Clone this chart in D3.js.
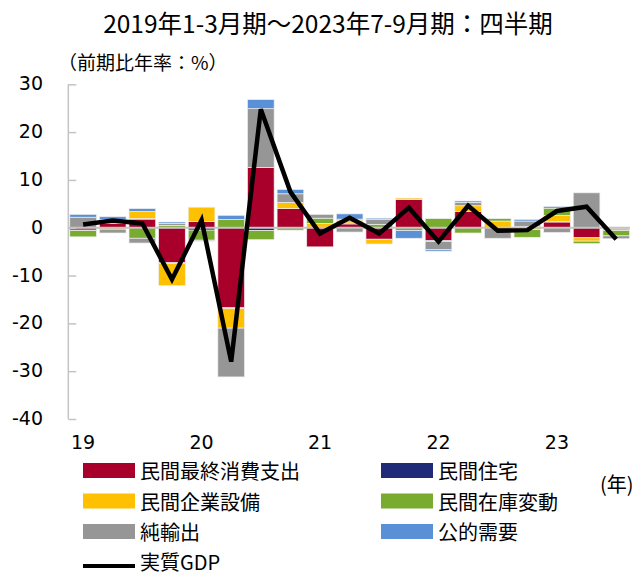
<!DOCTYPE html>
<html>
<head>
<meta charset="utf-8">
<script src="https://cdnjs.cloudflare.com/ajax/libs/d3/7.8.5/d3.min.js"></script>
<style>
  body { margin: 0; background: #fff; }
  text { font-family: "Noto Sans CJK JP", "Noto Sans", sans-serif; fill: #000; }
  .num { font-family: "DejaVu Sans", Verdana, sans-serif; }
</style>
</head>
<body>
<script>
// quarters 2019Q1 - 2023Q3
var quarters = ["2019Q1","2019Q2","2019Q3","2019Q4","2020Q1","2020Q2","2020Q3","2020Q4",
  "2021Q1","2021Q2","2021Q3","2021Q4","2022Q1","2022Q2","2022Q3","2022Q4",
  "2023Q1","2023Q2","2023Q3"];

// contributions (annualised, %)
var consumption = [-0.5, 0.9, 1.8, -7.3, 1.3, -16.7, 12.6, 4.0, -4.0, 0.8, -2.4, 5.9, -2.7, 3.4, 0.1, 0.3, 1.2, -2.1, -0.2];
var housing     = [-0.1, 0.2, 0.1, -0.2, -0.5, -0.2, -0.6, 0.0, 0.1, 0.2, -0.1, 0.0, -0.2, 0.0, 0.0, 0.0, 0.1, 0.0, 0.0];
var investment  = [0.0, -0.3, 1.5, -4.6, 3.0, -4.1, 0.0, 1.3, 0.8, 0.6, -0.9, 0.3, 0.0, 1.2, 1.3, -0.4, 1.3, -0.7, -0.4];
var inventory   = [-1.3, 0.6, -2.2, 0.5, -2.1, 1.7, -1.9, -0.5, 1.1, 0.2, 0.7, -0.6, 1.9, -1.1, 0.5, -1.6, 1.5, -0.5, -1.1];
var netExports  = [2.2, -0.8, -1.0, 0.4, -0.2, -10.2, 12.3, 1.8, 0.8, -0.9, 1.0, 0.0, -1.7, 0.7, -2.2, 1.1, -1.0, 7.3, -0.6];
var publicDem   = [0.6, 0.6, 0.6, 0.3, 0.0, 0.9, 1.9, 0.9, 0.0, 1.1, 0.3, -1.6, -0.3, 0.3, 0.0, 0.35, 0.35, 0.0, 0.1];
var realGDP     = [0.7, 1.5, 0.9, -10.8, 1.6, -28.0, 24.8, 7.5, -1.2, 2.1, -1.2, 4.2, -2.9, 4.6, -0.6, -0.5, 3.5, 4.4, -2.4];

var yTicks = [30, 20, 10, 0, -10, -20, -30, -40];
var yearLabels = ["19", "20", "21", "22", "23"];
var yearQuarters = ["2019Q1", "2020Q1", "2021Q1", "2022Q1", "2023Q1"];

var seriesNames = ["民間最終消費支出", "民間住宅", "民間企業設備", "民間在庫変動", "純輸出", "公的需要"];
var seriesColors = ["#a8002a", "#1f2a78", "#ffc000", "#78ab2e", "#969696", "#5990d6"];
var seriesData = [consumption, housing, investment, inventory, netExports, publicDem];

var w = 637;
var h = 575;

var svg = d3.select("body")
  .append("svg")
  .attr("width", w)
  .attr("height", h);

var x = d3.scaleBand()
  .domain(quarters)
  .range([68.3, 631])
  .paddingInner(0.1)
  .paddingOuter(0.05);

var y = d3.scaleLinear()
  .domain([-40, 30])
  .range([419, 84.3]);

// title + unit
svg.append("text")
  .attr("x", 328).attr("y", 22)
  .attr("text-anchor", "middle")
  .attr("dominant-baseline", "central")
  .style("font-size", "24.5px")
  .text("2019年1-3月期～2023年7-9月期：四半期");

svg.append("text")
  .attr("x", 58).attr("y", 61)
  .attr("dominant-baseline", "central")
  .style("font-size", "19px")
  .text("（前期比年率：%）");

// stacked bars
var rows = quarters.map(function(q, i) {
  var r = { q: q };
  seriesNames.forEach(function(n, k) { r[n] = seriesData[k][i]; });
  return r;
});

var stacked = d3.stack()
  .keys(seriesNames)
  .offset(d3.stackOffsetDiverging)(rows);

svg.append("g")
  .selectAll("g")
  .data(stacked)
  .enter()
  .append("g")
  .attr("fill", function(d, i) { return seriesColors[i]; })
  .selectAll("rect")
  .data(function(d) { return d; })
  .enter()
  .append("rect")
  .attr("x", function(d) { return x(d.data.q); })
  .attr("y", function(d) { return y(Math.max(d[0], d[1])); })
  .attr("width", x.bandwidth())
  .attr("height", function(d) { return Math.abs(y(d[0]) - y(d[1])); })
  .attr("stroke", "#eeeeee")
  .attr("stroke-width", 0.7);

// zero line
svg.append("line")
  .attr("x1", 68.3).attr("x2", 630)
  .attr("y1", y(0)).attr("y2", y(0))
  .attr("stroke", "#c4c4c4")
  .attr("stroke-width", 2);

// y axis
var yAxis = d3.axisRight(y)
  .tickValues(yTicks)
  .tickSize(8)
  .tickFormat("");

var ax = svg.append("g")
  .attr("transform", "translate(68.3,0)")
  .call(yAxis);
ax.select(".domain").remove();
ax.selectAll(".tick line").attr("stroke", "#c4c4c4").attr("stroke-width", 1.5);
ax.append("line")
  .attr("y1", y(30)).attr("y2", y(-40))
  .attr("stroke", "#c4c4c4")
  .attr("stroke-width", 1.5);

svg.append("g")
  .selectAll("text")
  .data(yTicks)
  .enter()
  .append("text")
  .attr("class", "num")
  .attr("x", 43)
  .attr("y", function(d) { return y(d) - 1; })
  .attr("text-anchor", "end")
  .attr("dominant-baseline", "central")
  .style("font-size", "19px")
  .text(function(d) { return d; });

// year labels under the Q1 bars
svg.append("g")
  .selectAll("text")
  .data(yearLabels)
  .enter()
  .append("text")
  .attr("class", "num")
  .attr("x", function(d, i) { return x(yearQuarters[i]) + x.bandwidth() / 2; })
  .attr("y", 442)
  .attr("text-anchor", "middle")
  .attr("dominant-baseline", "central")
  .style("font-size", "19px")
  .text(function(d) { return d; });

svg.append("text")
  .attr("x", 600).attr("y", 483)
  .attr("dominant-baseline", "central")
  .style("font-size", "20px")
  .text("(年)");

// GDP line
var line = d3.line()
  .x(function(d, i) { return x(quarters[i]) + x.bandwidth() / 2; })
  .y(function(d) { return y(d); });

svg.append("path")
  .datum(realGDP)
  .attr("d", line)
  .attr("fill", "none")
  .attr("stroke", "#000")
  .attr("stroke-width", 4.5)
  .attr("stroke-linejoin", "miter");

// legend
var legendX = [83, 381];
var legendY = [470.5, 501, 531.5];

var leg = svg.append("g")
  .selectAll("g")
  .data(seriesNames)
  .enter()
  .append("g")
  .attr("transform", function(d, i) {
    return "translate(" + legendX[i % 2] + "," + legendY[Math.floor(i / 2)] + ")";
  });

leg.append("rect")
  .attr("x", 0).attr("y", -7.5)
  .attr("width", 52).attr("height", 15)
  .attr("fill", function(d, i) { return seriesColors[i]; });

leg.append("text")
  .attr("x", 57).attr("y", 0)
  .attr("dominant-baseline", "central")
  .style("font-size", "20px")
  .text(function(d) { return d; });

var gdpLeg = svg.append("g").attr("transform", "translate(83,561)");
gdpLeg.append("line")
  .attr("x1", 0).attr("x2", 52)
  .attr("y1", 5).attr("y2", 5)
  .attr("stroke", "#000").attr("stroke-width", 4);
gdpLeg.append("text")
  .attr("x", 57).attr("y", 0)
  .attr("dominant-baseline", "central")
  .style("font-size", "20px")
  .text("実質GDP");
</script>
</body>
</html>
